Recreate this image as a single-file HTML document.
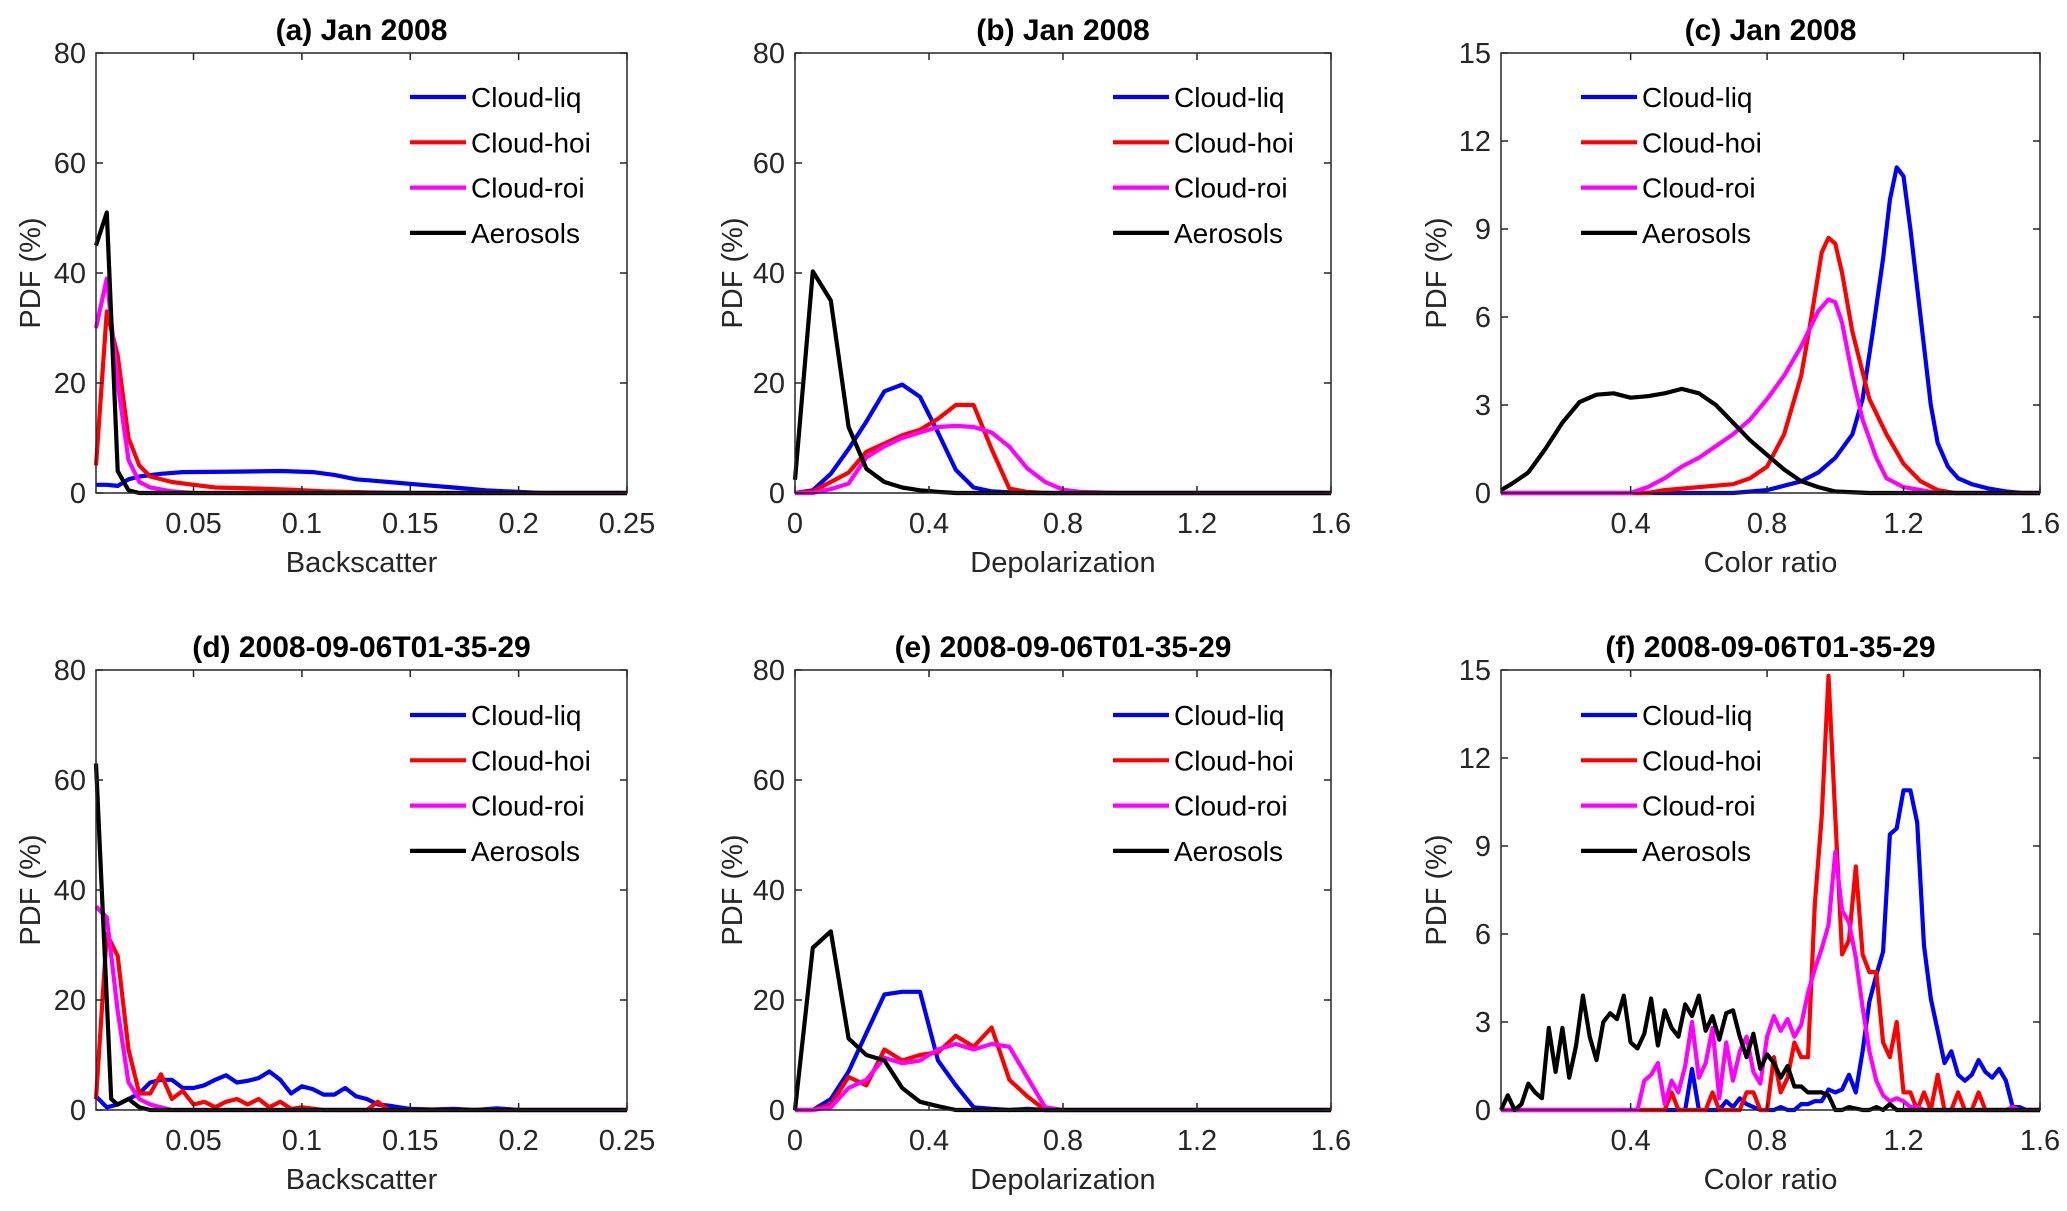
<!DOCTYPE html>
<html><head><meta charset="utf-8">
<style>
html,body{margin:0;padding:0;background:#fff;}
svg{display:block;font-family:"Liberation Sans",Arial,sans-serif;}
</style></head>
<body>
<svg id="fig" width="2067" height="1211" viewBox="0 0 2067 1211" xmlns="http://www.w3.org/2000/svg"></svg>
<script>
// ---- data ----
const aLiqX=[0.005,0.01,0.015,0.02,0.025,0.035,0.045,0.07,0.09,0.105,0.115,0.125,0.14,0.155,0.17,0.185,0.2,0.21,0.25];
const aLiqY=[1.5,1.5,1.3,2.5,3,3.5,3.8,3.9,4,3.8,3.3,2.5,2,1.5,1,0.5,0.2,0,0];
const aHoiX=[0.005,0.01,0.015,0.02,0.025,0.03,0.04,0.05,0.06,0.08,0.095,0.11,0.13,0.15,0.25];
const aHoiY=[5,33,25,10,5,3,2,1.5,1,0.8,0.6,0.3,0.1,0,0];
const aRoiX=[0.005,0.01,0.015,0.02,0.025,0.03,0.04,0.05,0.25];
const aRoiY=[30,39,20,6,2,1,0.3,0,0];
const aAerX=[0.005,0.01,0.015,0.02,0.025,0.03,0.25];
const aAerY=[45,51,4,0.5,0,0,0];
const bBins=[0,0.053,0.107,0.16,0.213,0.267,0.32,0.373,0.427,0.48,0.533,0.587,0.64,0.693,0.747,0.8,0.853,0.907,0.96,1.6];
const bLiqY=[0,0.5,3.5,8,13,18.5,19.7,17.5,11,4.2,1,0.3,0.1,0,0,0,0,0,0,0];
const bHoiY=[0,0.3,2,3.7,7.5,9,10.5,11.5,13.5,16,16,8,0.8,0.2,0,0,0,0,0,0];
const bRoiY=[0,0,0.7,1.7,6.5,8.5,10,11,12,12.2,12,11,8.4,4.5,2,0.6,0.2,0.1,0,0];
const bAerY=[2.4,40.3,35,12,4.4,2,1,0.5,0.2,0,0,0,0,0,0,0,0,0,0,0];
const cAerX=[0.02,0.05,0.1,0.15,0.2,0.25,0.3,0.35,0.4,0.45,0.5,0.55,0.6,0.65,0.7,0.75,0.8,0.85,0.9,0.95,1.0,1.1,1.6];
const cAerY=[0.1,0.3,0.7,1.5,2.4,3.1,3.35,3.4,3.25,3.3,3.4,3.55,3.4,3.0,2.4,1.8,1.3,0.8,0.4,0.2,0.05,0,0];
const cHoiX=[0.02,0.45,0.5,0.6,0.7,0.75,0.8,0.85,0.9,0.93,0.96,0.98,1.0,1.02,1.05,1.1,1.15,1.2,1.25,1.3,1.35,1.6];
const cHoiY=[0,0,0.1,0.2,0.3,0.5,0.9,2,4,6,8.2,8.7,8.5,7.5,5.5,3.2,2,1,0.4,0.1,0,0];
const cRoiX=[0.02,0.4,0.45,0.5,0.55,0.6,0.65,0.7,0.75,0.8,0.85,0.9,0.95,0.98,1.0,1.02,1.05,1.08,1.12,1.15,1.2,1.3,1.6];
const cRoiY=[0,0,0.2,0.5,0.9,1.2,1.6,2,2.5,3.2,4,5,6.2,6.6,6.5,5.8,4,2.5,1.2,0.5,0.2,0,0];
const cLiqX=[0.02,0.7,0.8,0.9,0.95,1.0,1.05,1.08,1.11,1.14,1.16,1.18,1.2,1.22,1.25,1.28,1.3,1.33,1.36,1.4,1.45,1.5,1.55,1.6];
const cLiqY=[0,0,0.1,0.4,0.7,1.2,2,3.2,5.5,8,10,11.1,10.8,9,6,3,1.7,0.9,0.5,0.3,0.15,0.05,0,0];
const dLiqX=[0.005,0.01,0.015,0.02,0.025,0.03,0.035,0.04,0.045,0.05,0.055,0.06,0.065,0.07,0.075,0.08,0.085,0.09,0.095,0.1,0.105,0.11,0.115,0.12,0.125,0.13,0.135,0.14,0.145,0.15,0.16,0.17,0.18,0.19,0.2,0.25];
const dLiqY=[2.5,0.5,1,2,3,5,5.5,5.5,4,4,4.5,5.5,6.3,5,5.3,5.8,7,5.5,3,4.3,3.8,2.8,2.8,4,2.5,2,1,0.8,0.5,0.2,0.1,0.2,0,0.3,0,0];
const dHoiX=[0.005,0.01,0.015,0.02,0.025,0.03,0.035,0.04,0.045,0.05,0.055,0.06,0.065,0.07,0.075,0.08,0.085,0.09,0.095,0.1,0.11,0.13,0.135,0.14,0.25];
const dHoiY=[2,32,28,11,3,3,6.5,2,3.5,1,1.5,0.5,1.5,2,1,2,0.5,1.5,0.2,0.5,0,0,1.5,0,0];
const dRoiX=[0.005,0.01,0.015,0.02,0.025,0.03,0.035,0.04,0.25];
const dRoiY=[37,35,18,5,2,1,0.5,0,0];
const dAerX=[0.005,0.01,0.012,0.015,0.02,0.025,0.03,0.25];
const dAerY=[63,20,2,1,2,0.5,0,0];
const eBins=[0,0.053,0.107,0.16,0.213,0.267,0.32,0.373,0.427,0.48,0.533,0.587,0.64,0.693,0.747,0.8,0.853,1.6];
const eLiqY=[0,0,2,7,14,21,21.5,21.5,9,4.5,0.5,0.2,0,0.2,0,0,0,0];
const eHoiY=[0,0,1,6,4.5,11,9,10,10.5,13.5,11.5,15,5.5,2.5,0,0,0,0];
const eRoiY=[0,0,0.5,4,5.5,9.5,8.5,9,11,12,11,12,11.5,6,0.5,0,0,0];
const eAerY=[0,29.5,32.5,13,10,9,4,1.5,0.7,0,0,0,0,0,0,0,0,0];
const fBins=[];
for(let k=1;k<=80;k++){fBins.push(+(k*0.02).toFixed(2));}
const fAerY=[0,0.5,0,0.2,0.9,0.6,0.4,2.8,1.3,2.8,1.1,2.2,3.9,2.5,1.7,3,3.3,3.1,3.9,2.3,2.1,2.6,3.8,2.2,3.4,2.8,2.5,3.6,3.2,3.9,2.7,3.2,2.4,3.3,3.4,2.5,1.8,2.6,1.4,1.9,1.6,1.1,1.5,0.8,0.8,0.6,0.6,0.6,0.5,0,0,0.1,0.05,0,0,0.1,0,0.2,0,0,0,0,0,0,0,0,0,0,0,0,0,0,0,0,0,0,0,0,0,0];
const fRoiY=[0,0,0,0,0,0,0,0,0,0,0,0,0,0,0,0,0,0,0,0,0,1.0,1.2,1.6,0.2,1.0,0.6,1.5,3.0,1.1,1.6,2.8,0.4,2.3,1.0,2.0,2.5,1.3,0.9,2.5,3.2,2.7,3.1,2.5,2.9,4.0,4.8,5.5,6.3,8.8,6.8,6.4,5.2,3.5,2.0,1.0,0.5,0.3,0.4,0.3,0.1,0.1,0,0,0,0,0,0,0,0,0,0,0,0,0,0.1,0,0,0,0];
const fHoiY=[0,0,0,0,0,0,0,0,0,0,0,0,0,0,0,0,0,0,0,0,0,0,0,0,0,0.6,0,0,0,0,0,0.6,0,0,0,0,0.6,0.6,0,0,1.8,0.6,1.1,2.3,1.8,1.8,7,10,14.8,10,5.3,5.8,8.3,5.3,4.7,4.7,2.3,1.8,3.0,0.6,0.6,0,0.6,0,1.2,0,0,0.6,0,0,0.6,0,0,0,0,0,0,0,0,0];
const fLiqY=[0,0,0,0,0,0,0,0,0,0,0,0,0,0,0,0,0,0,0,0,0,0,0,0,0,0,0,0,1.4,0,0,0,0,0.3,0.1,0.4,0.2,0.1,0,0,0,0.1,0,0,0.2,0.2,0.3,0.3,0.7,0.6,0.7,1.2,0.6,2.0,3.7,4.6,5.4,9.4,9.6,10.9,10.9,9.8,5.6,3.8,2.7,1.6,2.0,1.2,1.0,1.2,1.7,1.3,1.1,1.4,1.0,0.1,0.1,0,0,0];

const legendNames=["Cloud-liq","Cloud-hoi","Cloud-roi","Aerosols"];
const colors=["#0000ff","#ff0000","#ff00ff","#000000"];
const bsTicks=[0.05,0.1,0.15,0.2,0.25];
const bsTickLabels=["0.05","0.1","0.15","0.2","0.25"];
const dpTicks=[0,0.4,0.8,1.2,1.6];
const dpTickLabels=["0","0.4","0.8","1.2","1.6"];
const crTicks=[0.4,0.8,1.2,1.6];
const crTickLabels=["0.4","0.8","1.2","1.6"];
const pdfTicks=[0,20,40,60,80];
const crPdfTicks=[0,3,6,9,12,15];

const NS="http://www.w3.org/2000/svg";
const svg=document.getElementById('fig');
function mk(tag,attrs,parent){const e=document.createElementNS(NS,tag);for(const k in attrs)e.setAttribute(k,attrs[k]);(parent||svg).appendChild(e);return e;}

function panel(o){
  const g=mk('g',{});
  
  
  const L=o.x0,R=o.x1,T=o.y0,B=o.y1;
  const sx=v=>L+(v-o.xmin)/(o.xmax-o.xmin)*(R-L);
  const sy=v=>B-(v-o.ymin)/(o.ymax-o.ymin)*(B-T);
  const t=mk('text',{x:(L+R)/2,y:T-13,'text-anchor':'middle','font-size':30,'font-weight':'bold',fill:'#000'},g);
  t.textContent=o.title;
  
  
  o.series.forEach((s,i)=>{
    const d=s.x.map((xv,j)=>(j?'L':'M')+sx(xv).toFixed(1)+','+sy(s.y[j]).toFixed(1)).join(' ');
    const p=mk('path',{d:d,fill:'none',stroke:colors[i],'stroke-width':4.2,'stroke-linejoin':'round'},g);
    
    
  });
  const box=mk('rect',{x:L,y:T,width:R-L,height:B-T,fill:'none',stroke:'#262626','stroke-width':1.5},g);
  
  
  o.xt.forEach((v,i)=>{
    const X=sx(v);
    mk('line',{x1:X,y1:B,x2:X,y2:B-7,stroke:'#262626','stroke-width':1.5},g);
    mk('line',{x1:X,y1:T,x2:X,y2:T+7,stroke:'#262626','stroke-width':1.5},g);
    const tl=mk('text',{x:X,y:B+40,'text-anchor':'middle','font-size':29,fill:'#262626'},g);
    tl.textContent=o.xtl[i];
    
    
  });
  o.yt.forEach(v=>{
    const Y=sy(v);
    mk('line',{x1:L,y1:Y,x2:L+7,y2:Y,stroke:'#262626','stroke-width':1.5},g);
    mk('line',{x1:R,y1:Y,x2:R-7,y2:Y,stroke:'#262626','stroke-width':1.5},g);
    const tl=mk('text',{x:L-10,y:Y+10,'text-anchor':'end','font-size':29,fill:'#262626'},g);
    tl.textContent=String(v);
    
    
  });
  const xl=mk('text',{x:(L+R)/2,y:B+79,'text-anchor':'middle','font-size':29,fill:'#262626'},g);
  xl.textContent=o.xlabel;
  
  
  const yx=o.ylx, yy=(T+B)/2;
  const yl=mk('text',{x:yx,y:yy,'text-anchor':'middle','font-size':29,fill:'#262626',transform:'rotate(-90 '+yx+' '+yy+')'},g);
  yl.textContent='PDF (%)';
  
  
  const lg=mk('g',{},g);
  
  
  legendNames.forEach((n,i)=>{
    const Y=T+o.legTop+i*45.3;
    mk('line',{x1:o.legX,y1:Y,x2:o.legX+56,y2:Y,stroke:colors[i],'stroke-width':4.2},lg);
    const lt=mk('text',{x:o.legX+61,y:Y+10,'font-size':28,fill:'#000'},lg);
    lt.textContent=n;
    
    
  });
}

const r1={y0:53,y1:493}, r2={y0:670,y1:1110};
panel({name:'panel-a',title:'(a) Jan 2008',x0:96,x1:627,...r1,xmin:0.005,xmax:0.25,ymin:0,ymax:80,
  xt:bsTicks,xtl:bsTickLabels,yt:pdfTicks,xlabel:'Backscatter',ylx:40,legX:410,legTop:44,
  series:[{x:aLiqX,y:aLiqY},{x:aHoiX,y:aHoiY},{x:aRoiX,y:aRoiY},{x:aAerX,y:aAerY}]});
panel({name:'panel-b',title:'(b) Jan 2008',x0:795,x1:1331,...r1,xmin:0,xmax:1.6,ymin:0,ymax:80,
  xt:dpTicks,xtl:dpTickLabels,yt:pdfTicks,xlabel:'Depolarization',ylx:742,legX:1113,legTop:44,
  series:[{x:bBins,y:bLiqY},{x:bBins,y:bHoiY},{x:bBins,y:bRoiY},{x:bBins,y:bAerY}]});
panel({name:'panel-c',title:'(c) Jan 2008',x0:1501,x1:2040,...r1,xmin:0.02,xmax:1.6,ymin:0,ymax:15,
  xt:crTicks,xtl:crTickLabels,yt:crPdfTicks,xlabel:'Color ratio',ylx:1446,legX:1581,legTop:44,
  series:[{x:cLiqX,y:cLiqY},{x:cHoiX,y:cHoiY},{x:cRoiX,y:cRoiY},{x:cAerX,y:cAerY}]});
panel({name:'panel-d',title:'(d) 2008-09-06T01-35-29',x0:96,x1:627,...r2,xmin:0.005,xmax:0.25,ymin:0,ymax:80,
  xt:bsTicks,xtl:bsTickLabels,yt:pdfTicks,xlabel:'Backscatter',ylx:40,legX:410,legTop:45,
  series:[{x:dLiqX,y:dLiqY},{x:dHoiX,y:dHoiY},{x:dRoiX,y:dRoiY},{x:dAerX,y:dAerY}]});
panel({name:'panel-e',title:'(e) 2008-09-06T01-35-29',x0:795,x1:1331,...r2,xmin:0,xmax:1.6,ymin:0,ymax:80,
  xt:dpTicks,xtl:dpTickLabels,yt:pdfTicks,xlabel:'Depolarization',ylx:742,legX:1113,legTop:45,
  series:[{x:eBins,y:eLiqY},{x:eBins,y:eHoiY},{x:eBins,y:eRoiY},{x:eBins,y:eAerY}]});
panel({name:'panel-f',title:'(f) 2008-09-06T01-35-29',x0:1501,x1:2040,...r2,xmin:0.02,xmax:1.6,ymin:0,ymax:15,
  xt:crTicks,xtl:crTickLabels,yt:crPdfTicks,xlabel:'Color ratio',ylx:1446,legX:1581,legTop:45,
  series:[{x:fBins,y:fLiqY},{x:fBins,y:fHoiY},{x:fBins,y:fRoiY},{x:fBins,y:fAerY}]});
</script>
</body></html>
